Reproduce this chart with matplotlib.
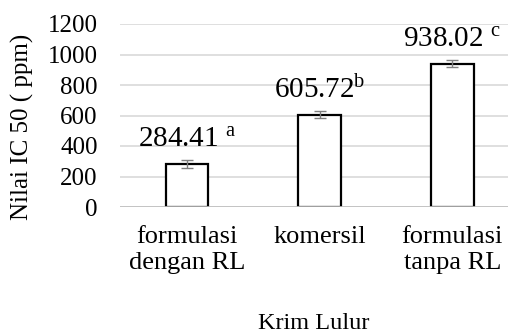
import matplotlib
matplotlib.use("Agg")
import matplotlib.pyplot as plt

plt.rcParams['font.family'] = ['Liberation Serif', 'DejaVu Serif']
plt.rcParams['mathtext.fontset'] = 'custom'
plt.rcParams['mathtext.rm'] = 'Liberation Serif'
plt.rcParams['mathtext.it'] = 'Liberation Serif'

categories = ["formulasi\ndengan RL", "komersil", "formulasi\ntanpa RL"]
values = [284.41, 605.72, 938.02]
errors = [26, 22, 23]
letters = ["a", "b", "c"]
gaps = [" ", "", " "]
yticks = [0, 200, 400, 600, 800, 1000, 1200]

fig = plt.figure(figsize=(5.08, 3.33), dpi=100)
ax = fig.add_axes([120/508, 1-207/333, 1-120/508, (207-24)/333])

x = range(len(values))
ax.bar(x, values, width=0.32, color="white", edgecolor="black", linewidth=1.6, zorder=2)
ax.errorbar(x, values, yerr=errors, fmt="none", ecolor="#7f7f7f", elinewidth=1.0,
            capsize=4.3, capthick=1.0, zorder=3)
ax.axhline(0, color="#bfbfbf", linewidth=1.2, zorder=4)

for xi, v, l, g in zip(x, values, letters, gaps):
    ax.annotate(f"{v:.2f}{g}$^{{\\mathrm{{{l}}}}}$", (xi, v), xytext=(0, 12),
                textcoords="offset points", ha="center", va="baseline", fontsize=21)

ax.set_xlim(-0.506, 2.42)
ax.set_ylim(0, 1200)
ax.set_yticks(yticks)
ax.set_xticks(list(x))
ax.set_xticklabels(categories, fontsize=19, linespacing=1.2)
ax.tick_params(axis="y", length=0, pad=16, labelsize=18)
ax.tick_params(axis="x", length=0, pad=14)
ax.yaxis.grid(True, color="#d9d9d9", linewidth=1.2, zorder=0)
ax.set_axisbelow(True)
for s in ax.spines.values():
    s.set_visible(False)

ax.set_ylabel("Nilai IC 50 ( ppm)", fontsize=18)
ax.yaxis.set_label_coords(-(120-34)/388, (207-127)/183, transform=ax.transAxes)
ax.set_xlabel("Krim Lulur", fontsize=17.5)
ax.xaxis.set_label_coords((314-120)/388, (207-313)/183, transform=ax.transAxes)

fig.savefig("out.png", dpi=100)
